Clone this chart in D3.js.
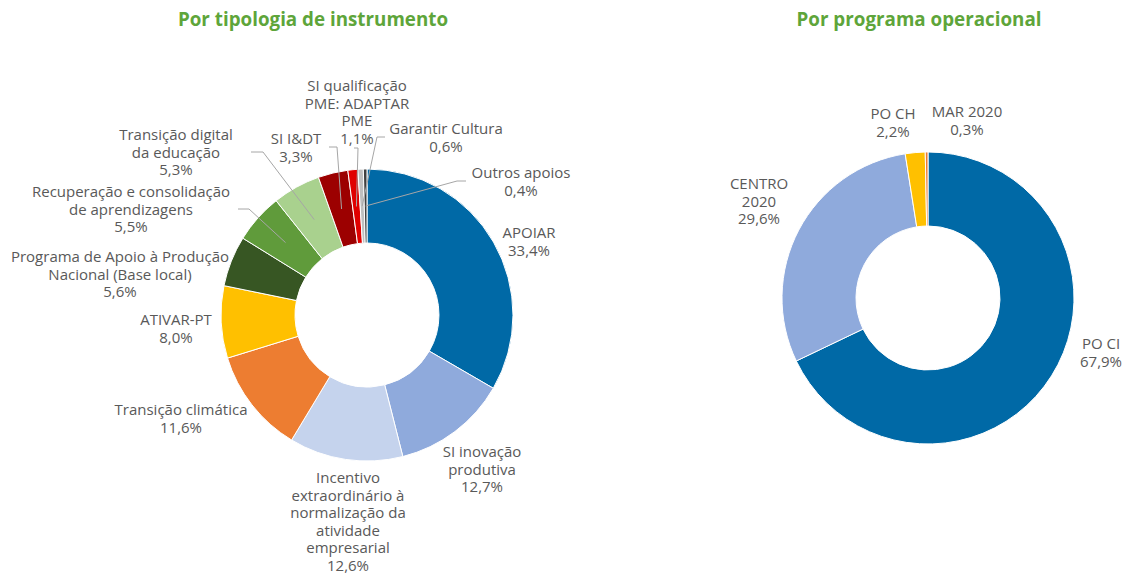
<!DOCTYPE html>
<html>
<head>
<meta charset="utf-8">
<script src="https://cdn.jsdelivr.net/npm/d3@7"></script>
<style>
  body { margin: 0; background: #fff; }
  svg { display: block; }
  .lbl { font-family: "Open Sans", sans-serif; font-size: 15px; fill: #595959; }
  .ttl { font-family: "Open Sans", sans-serif; font-size: 18.8px; font-weight: 700; fill: #5ea53a; }
</style>
</head>
<body>
<svg id="chart" width="1124" height="574"></svg>
<script>
// data - left donut (por tipologia de instrumento)
const instrumentos = [
  "APOIAR", "SI inovação produtiva", "Incentivo extraordinário à normalização da atividade empresarial",
  "Transição climática", "ATIVAR-PT", "Programa de Apoio à Produção Nacional (Base local)",
  "Recuperação e consolidação de aprendizagens", "Transição digital da educação", "SI I&DT",
  "SI qualificação PME: ADAPTAR PME", "Garantir Cultura", "Outros apoios"
];
const instrumentosValores = [33.4, 12.7, 12.6, 11.6, 8.0, 5.6, 5.5, 5.3, 3.3, 1.1, 0.6, 0.4];
const instrumentosCores = ["#0069a6", "#8faadc", "#c5d3ed", "#ed7d31", "#ffc000", "#375623",
  "#609b3b", "#a9d18e", "#9c0000", "#e00000", "#bfbfbf", "#404040"];

// data - right donut (por programa operacional)
const programas = ["PO CI", "CENTRO 2020", "PO CH", "MAR 2020"];
const programasValores = [67.9, 29.6, 2.2, 0.3];
const programasCores = ["#0069a6", "#8faadc", "#ffc000", "#ed7d31"];

// label layout: wrapped lines, offset of first line from donut centre, optional leader
const instrumentosLabels = [
  { lines: ["APOIAR"], dx: 162, dy: -82 },
  { lines: ["SI inovação", "produtiva"], dx: 115, dy: 137 },
  { lines: ["Incentivo", "extraordinário à", "normalização da", "atividade", "empresarial"], dx: -19, dy: 163 },
  { lines: ["Transição climática"], dx: -186, dy: 95 },
  { lines: ["ATIVAR-PT"], dx: -191, dy: 5 },
  { lines: ["Programa de Apoio à Produção", "Nacional (Base local)"], dx: -247, dy: -58 },
  { lines: ["Recuperação e consolidação", "de aprendizagens"], dx: -236, dy: -123, leader: [-129, -106, -118] },
  { lines: ["Transição digital", "da educação"], dx: -191, dy: -180, leader: [-116, -163, -104] },
  { lines: ["SI I&DT"], dx: -71, dy: -176, leader: [-38, -168, -30] },
  { lines: ["SI qualificação", "PME: ADAPTAR", "PME"], dx: -10, dy: -229, leader: [-13, -167, -9] },
  { lines: ["Garantir Cultura"], dx: 79, dy: -186, leader: [18, -178, 10] },
  { lines: ["Outros apoios"], dx: 154, dy: -142, leader: [99, -134, 90] }
];
const programasLabels = [
  { lines: ["PO CI"], dx: 173, dy: 46 },
  { lines: ["CENTRO", "2020"], dx: -169, dy: -114 },
  { lines: ["PO CH"], dx: -35, dy: -184 },
  { lines: ["MAR 2020"], dx: 39, dy: -186 }
];

const svg = d3.select("#chart");
const fmt = v => d3.format(".1f")(v).replace(".", ",") + "%";
const lineH = 17.5;
const baseShift = 5;

function donut(cx, cy, title, titleX, names, values, colors, labels) {
  const outer = 146, inner = 72;
  const pie = d3.pie().value(d => d.value).sort(null);
  const arc = d3.arc().innerRadius(inner).outerRadius(outer);
  const data = names.map((n, i) => ({ name: n, value: values[i], color: colors[i], label: labels[i] }));

  svg.append("text").attr("class", "ttl").attr("x", titleX).attr("y", 26)
    .attr("text-anchor", "middle").text(title);

  const g = svg.append("g").attr("transform", "translate(" + cx + "," + cy + ")");

  const arcs = pie(data);
  g.selectAll("path.slice").data(arcs).enter().append("path")
    .attr("class", "slice")
    .attr("d", arc)
    .attr("fill", d => d.data.color)
    .attr("stroke", "#fff")
    .attr("stroke-width", 1);

  // leader lines from label to the slice centroid
  arcs.forEach(a => {
    const l = a.data.label;
    if (!l.leader) return;
    const c = arc.centroid(a);
    const pts = [[l.leader[0], l.leader[1]], [l.leader[2], l.leader[1]], c];
    g.append("path")
      .attr("d", d3.line()(pts))
      .attr("fill", "none")
      .attr("stroke", "#a6a6a6")
      .attr("stroke-width", 1);
  });

  // labels
  arcs.forEach(a => {
    const l = a.data.label;
    const t = g.append("text").attr("class", "lbl").attr("text-anchor", "middle")
      .attr("transform", "translate(" + l.dx + "," + (l.dy + baseShift) + ")");
    const lines = l.lines.concat([fmt(a.data.value)]);
    lines.forEach((s, i) => {
      t.append("tspan").attr("x", 0).attr("y", i * lineH).text(s);
    });
  });
}

donut(367, 315, "Por tipologia de instrumento", 313, instrumentos, instrumentosValores, instrumentosCores, instrumentosLabels);
donut(928, 298, "Por programa operacional", 919, programas, programasValores, programasCores, programasLabels);
</script>
</body>
</html>
